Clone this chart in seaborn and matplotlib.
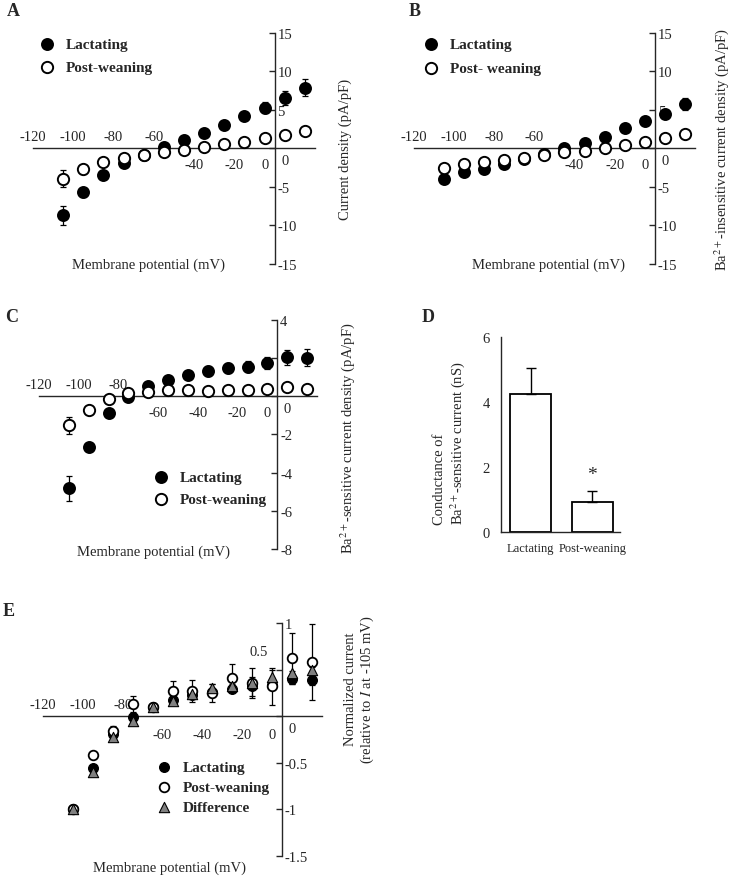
import matplotlib
matplotlib.use('Agg')
import matplotlib.pyplot as plt
import seaborn as sns

# holding potentials (mV)
voltage = [-105, -95, -85, -75, -65, -55, -45, -35, -25, -15, -5, 5, 15]

# A: current density (pA/pF)
a_lact = [-8.7, -5.7, -3.4, -1.9, -0.9, 0.2, 1.1, 2.0, 3.0, 4.2, 5.3, 6.6, 7.9]
a_lact_err = [1.2, 0.6, 0.4, 0.3, 0.3, 0.3, 0.3, 0.3, 0.4, 0.5, 0.7, 0.9, 1.1]
a_post = [-3.9, -2.7, -1.8, -1.3, -0.8, -0.5, -0.2, 0.2, 0.6, 0.9, 1.4, 1.8, 2.3]
a_post_err = [1.1, 0.6, 0.4, 0.3, 0.3, 0.3, 0.3, 0.3, 0.3, 0.3, 0.3, 0.3, 0.3]

# B: Ba2+-insensitive current density (pA/pF)
b_lact = [-3.9, -3.1, -2.7, -2.0, -1.4, -0.7, 0.1, 0.7, 1.5, 2.6, 3.6, 4.5, 5.8]
b_lact_err = [0.3, 0.3, 0.3, 0.3, 0.3, 0.3, 0.3, 0.3, 0.3, 0.3, 0.4, 0.5, 0.8]
b_post = [-2.5, -2.0, -1.8, -1.5, -1.2, -0.8, -0.5, -0.3, 0.1, 0.5, 0.9, 1.3, 1.9]
b_post_err = [0.3, 0.3, 0.3, 0.3, 0.3, 0.3, 0.3, 0.3, 0.3, 0.3, 0.3, 0.3, 0.3]

# C: Ba2+-sensitive current density (pA/pF)
c_lact = [-4.83, -2.68, -0.89, -0.05, 0.56, 0.87, 1.11, 1.34, 1.48, 1.55, 1.74, 2.05, 2.03]
c_lact_err = [0.65, 0.2, 0.1, 0.1, 0.1, 0.12, 0.15, 0.25, 0.28, 0.3, 0.3, 0.4, 0.45]
c_post = [-1.51, -0.71, -0.12, 0.16, 0.21, 0.31, 0.31, 0.28, 0.35, 0.31, 0.38, 0.49, 0.38]
c_post_err = [0.45, 0.1, 0.1, 0.1, 0.1, 0.1, 0.1, 0.1, 0.1, 0.1, 0.1, 0.1, 0.1]

# D: conductance of Ba2+-sensitive current (nS)
d_groups = ['Lactating', 'Post-weaning']
d_mean = [4.25, 0.93]
d_err = [0.8, 0.34]

# E: normalized current (relative to I at -105 mV)
e_lact = [-1.0, -0.557, -0.19, -0.01, 0.096, 0.175, 0.23, 0.26, 0.29, 0.32, 0.34, 0.40, 0.39]
e_lact_err = [0.0, 0.02, 0.02, 0.02, 0.02, 0.03, 0.03, 0.03, 0.03, 0.1, 0.03, 0.05, 0.05]
e_post = [-1.0, -0.42, -0.155, 0.13, 0.10, 0.275, 0.27, 0.25, 0.41, 0.36, 0.32, 0.62, 0.58]
e_post_err = [0.0, 0.02, 0.05, 0.09, 0.02, 0.1, 0.12, 0.1, 0.15, 0.16, 0.2, 0.27, 0.41]
e_diff = [-1.0, -0.6, -0.225, -0.05, 0.10, 0.16, 0.24, 0.30, 0.32, 0.36, 0.42, 0.46, 0.50]
e_diff_err = [0.0, 0.02, 0.02, 0.02, 0.02, 0.02, 0.03, 0.05, 0.03, 0.03, 0.08, 0.03, 0.03]

sns.set_style('white')
plt.rcParams['font.family'] = ['Liberation Serif', 'DejaVu Serif']
plt.rcParams['mathtext.fontset'] = 'stix'
plt.rcParams['axes.linewidth'] = 1.0

fig = plt.figure(figsize=(7.31, 8.78), dpi=100)

TICK_FS = 10.5
LAB_FS = 10.5


def iv_axes(ax, ylim, yticks, ylabels, n_above, below_dy):
    ax.set_xlim(-120, 20)
    ax.set_ylim(*ylim)
    for s in ['top', 'left']:
        ax.spines[s].set_visible(False)
    ax.spines['bottom'].set_position(('data', 0))
    ax.spines['right'].set_position(('data', 0))
    ax.yaxis.tick_right()
    ax.set_xticks(range(-120, 21, 20))
    ax.tick_params(axis='x', direction='out', length=4, width=1, labelbottom=False)
    ax.set_yticks(yticks)
    ax.set_yticklabels(ylabels)
    ax.tick_params(axis='y', direction='in', length=4, width=1, pad=2, labelsize=TICK_FS)
    # the odd x tick labels of the original figure
    for v in range(-120, 1, 20):
        if v < -120 + 20 * n_above:
            ax.annotate(str(v), (v, 0), xytext=(0, 8.5), textcoords='offset points',
                        ha='center', va='center', fontsize=TICK_FS)
        else:
            ax.annotate(str(v), (v if v != 0 else -5, 0), xytext=(0, below_dy),
                        textcoords='offset points', ha='center', va='center', fontsize=TICK_FS)
    ax.annotate('0', (5, 0), xytext=(0, -8.5), textcoords='offset points',
                ha='center', va='center', fontsize=TICK_FS)
    ax.annotate('20', (21, 0), xytext=(0, below_dy), textcoords='offset points',
                ha='center', va='center', fontsize=TICK_FS)


def iv_points(ax, lact, lact_err, post, post_err, size):
    ax.errorbar(voltage, lact, yerr=lact_err, fmt='none', ecolor='black',
                elinewidth=0.9, capsize=2.5, capthick=0.9, zorder=2)
    ax.errorbar(voltage, post, yerr=post_err, fmt='none', ecolor='black',
                elinewidth=0.9, capsize=2.5, capthick=0.9, zorder=2)
    sns.scatterplot(x=voltage, y=lact, ax=ax, color='black', edgecolor='black',
                    s=size, linewidth=1.2, zorder=3, label='Lactating', clip_on=False)
    sns.scatterplot(x=voltage, y=post, ax=ax, color='white', edgecolor='black',
                    s=size, linewidth=1.4, zorder=4, label='Post-weaning', clip_on=False)


def bold_legend(ax, anchor, labels=None, spacing=0.6):
    h, l = ax.get_legend_handles_labels()
    if labels is not None:
        l = labels
    ax.legend(h, l, loc='upper left', bbox_to_anchor=anchor, frameon=False,
              prop={'weight': 'bold', 'size': 11}, handletextpad=0.75, handlelength=1.0,
              borderpad=0, borderaxespad=0, labelspacing=spacing)


# ---------- A ----------
axA = fig.add_axes([0.0451, 0.6982, 0.3858, 0.2631])
iv_axes(axA, (-15, 15), [-15, -10, -5, 0, 5, 10, 15],
        ['-15', '-10', '-5', '', '5', '10', '15'], 4, -11.5)
iv_points(axA, a_lact, a_lact_err, a_post, a_post_err, 66)
bold_legend(axA, (0.022, 0.98))
axA.text(0.41, 0.0, 'Membrane potential (mV)', transform=axA.transAxes,
         ha='center', va='center', fontsize=LAB_FS)
axA.text(1.107, 0.5, 'Current density (pA/pF)', transform=axA.transAxes,
         rotation=90, ha='center', va='center', fontsize=LAB_FS)

# ---------- B ----------
axB = fig.add_axes([0.5663, 0.6982, 0.3844, 0.2631])
iv_axes(axB, (-15, 15), [-15, -10, -5, 0, 5, 10, 15],
        ['-15', '-10', '-5', '', '5', '10', '15'], 4, -11.5)
iv_points(axB, b_lact, b_lact_err, b_post, b_post_err, 66)
bold_legend(axB, (0.032, 0.98), labels=['Lactating', 'Post- weaning'], spacing=0.65)
axB.text(0.48, 0.0, 'Membrane potential (mV)', transform=axB.transAxes,
         ha='center', va='center', fontsize=LAB_FS)
axB.text(1.093, 0.5, 'Ba$^{2+}$-insensitive current density (pA/pF)', transform=axB.transAxes,
         rotation=90, ha='center', va='center', fontsize=LAB_FS)

# ---------- C ----------
axC = fig.add_axes([0.0534, 0.3736, 0.3803, 0.2608])
iv_axes(axC, (-8, 4), [-8, -6, -4, -2, 0, 2, 4],
        ['-8', '-6', '-4', '-2', '', '', '4'], 3, -11.5)
iv_points(axC, c_lact, c_lact_err, c_post, c_post_err, 66)
bold_legend(axC, (0.41, 0.345), spacing=0.55)
axC.text(0.41, -0.01, 'Membrane potential (mV)', transform=axC.transAxes,
         ha='center', va='center', fontsize=LAB_FS)
axC.text(1.108, 0.49, 'Ba$^{2+}$-sensitive current density (pA/pF)', transform=axC.transAxes,
         rotation=90, ha='center', va='center', fontsize=LAB_FS)

# ---------- D ----------
axD = fig.add_axes([0.6854, 0.3929, 0.1628, 0.2221])
sns.barplot(x=d_groups, y=d_mean, ax=axD, color='white', saturation=1,
            edgecolor='black', linewidth=1.3, width=0.67)
axD.errorbar(range(len(d_groups)), d_mean, yerr=[[0] * len(d_err), d_err], fmt='none',
             ecolor='black', elinewidth=1.0, capsize=3.5, capthick=1.0, zorder=1)
axD.text(1, d_mean[1] + d_err[1] + 0.25, '*', ha='center', va='bottom', fontsize=14)
axD.set_xlim(-0.48, 1.45)
axD.set_ylim(0, 6)
axD.set_yticks([0, 2, 4, 6])
sns.despine(ax=axD)
axD.tick_params(axis='x', length=0, pad=7, labelsize=9)
axD.tick_params(axis='y', direction='out', length=4, width=1, labelsize=10.5, pad=4)
axD.text(-0.43, 0.04, 'Conductance of\nBa$^{2+}$-sensitive current (nS)', transform=axD.transAxes,
         rotation=90, ha='center', va='bottom', multialignment='left', fontsize=10.5)

# ---------- E ----------
axE = fig.add_axes([0.0588, 0.0239, 0.3817, 0.2654])
iv_axes(axE, (-1.5, 1), [-1.5, -1, -0.5, 0, 0.5, 1],
        ['-1.5', '-1', '-0.5', '', '', '1'], 3, -13)
axE.text(-12, 0.69, '0.5', ha='center', va='center', fontsize=TICK_FS)
for vals, errs in [(e_lact, e_lact_err), (e_post, e_post_err), (e_diff, e_diff_err)]:
    axE.errorbar(voltage, vals, yerr=errs, fmt='none', ecolor='black',
                 elinewidth=0.9, capsize=2.5, capthick=0.9, zorder=2)
sns.scatterplot(x=voltage, y=e_lact, ax=axE, color='black', edgecolor='black',
                s=48, linewidth=1.0, zorder=3, label='Lactating', clip_on=False)
sns.scatterplot(x=voltage, y=e_post, ax=axE, color='white', edgecolor='black',
                s=48, linewidth=1.3, zorder=4, label='Post-weaning', clip_on=False)
sns.scatterplot(x=voltage, y=e_diff, ax=axE, color='#808080', edgecolor='black', marker='^',
                s=55, linewidth=0.8, zorder=5, label='Difference', clip_on=False)
bold_legend(axE, (0.405, 0.41), spacing=0.4)
axE.text(0.455, -0.047, 'Membrane potential (mV)', transform=axE.transAxes,
         ha='center', va='center', fontsize=LAB_FS)
axE.text(1.136, 0.72, 'Normalized current\n(relative to $I$ at -105 mV)', transform=axE.transAxes,
         rotation=90, ha='center', va='center', multialignment='center', fontsize=LAB_FS)

# panel letters
for letter, px, py in [('A', 13, 11), ('B', 415, 11), ('C', 12, 317), ('D', 428, 317), ('E', 9, 611)]:
    fig.text(px / 731, 1 - py / 878, letter, ha='center', va='center',
             fontsize=13, fontweight='bold')

fig.savefig('out.png', dpi=100)
